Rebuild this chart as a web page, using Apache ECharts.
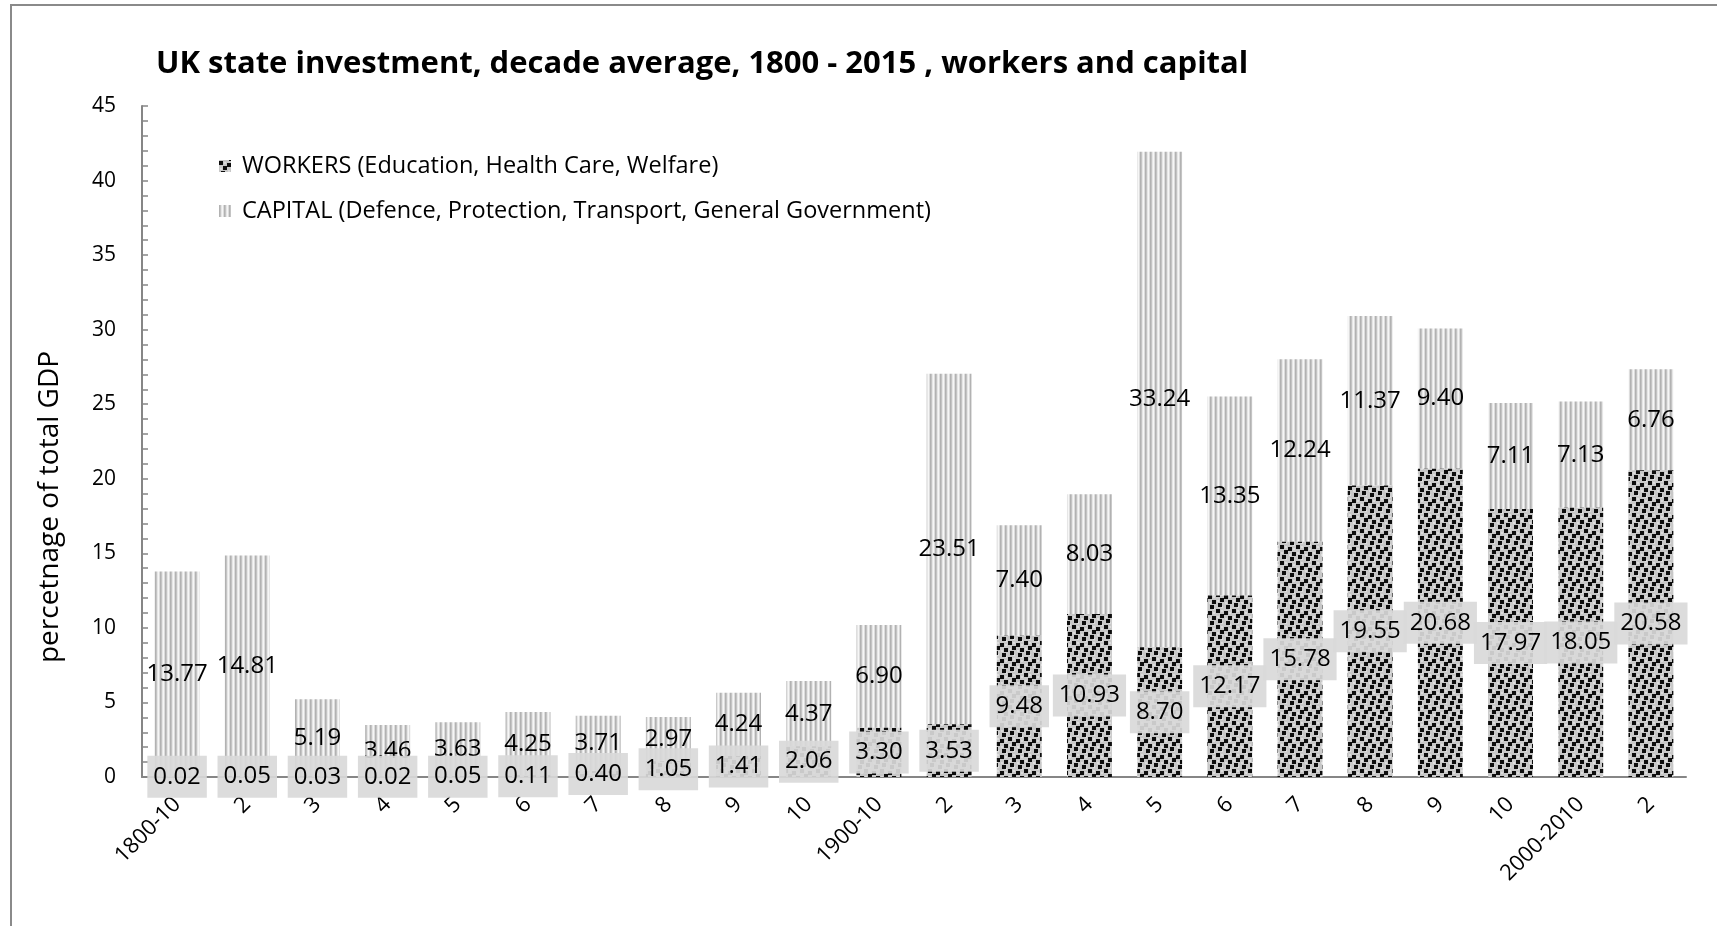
<!DOCTYPE html>
<html>
<head>
<meta charset="utf-8">
<title>UK state investment, decade average, 1800 - 2015</title>
<script src="https://cdn.jsdelivr.net/npm/echarts@6/dist/echarts.min.js"></script>
<style>
  html, body { margin: 0; padding: 0; background: #ffffff; }
  #chart { width: 1717px; height: 926px; }
</style>
</head>
<body>
<div id="chart"></div>
<script>
// Decade labels along the horizontal axis
const categories = ['1800-10', '2', '3', '4', '5', '6', '7', '8', '9', '10',
  '1900-10', '2', '3', '4', '5', '6', '7', '8', '9', '10',
  '2000-2010', '2'];

// Share of GDP spent on workers (education, health care, welfare)
const workers = [0.02, 0.05, 0.03, 0.02, 0.05, 0.11, 0.40, 1.05, 1.41, 2.06,
  3.30, 3.53, 9.48, 10.93, 8.70, 12.17, 15.78, 19.55, 20.68, 17.97,
  18.05, 20.58];

// Share of GDP spent on capital (defence, protection, transport, general government)
const capital = [13.77, 14.81, 5.19, 3.46, 3.63, 4.25, 3.71, 2.97, 4.24, 4.37,
  6.90, 23.51, 7.40, 8.03, 33.24, 13.35, 12.24, 11.37, 9.40, 7.11,
  7.13, 6.76];

const yTicks = [0, 5, 10, 15, 20, 25, 30, 35, 40, 45];

const FONT = '"Open Sans", "Noto Sans", sans-serif';

// Vertical pinstripe fill for the capital segments
function stripePattern() {
  const c = document.createElement('canvas');
  c.width = 5; c.height = 4;
  const ctx = c.getContext('2d');
  const cols = ['#b2b2b2', '#c4c4c4', '#e6e6e6', '#f6f6f6', '#dcdcdc'];
  cols.forEach((col, i) => { ctx.fillStyle = col; ctx.fillRect(i, 0, 1, 4); });
  return c;
}

// Grey fill scattered with small black squares for the workers segments
function dotPattern() {
  const c = document.createElement('canvas');
  c.width = 16; c.height = 16;
  const ctx = c.getContext('2d');
  ctx.fillStyle = '#c8c8c8';
  ctx.fillRect(0, 0, 16, 16);
  ctx.fillStyle = '#dcdcdc';
  [[5, 2], [13, 4], [1, 8], [9, 10], [5, 14], [13, 0]].forEach(([x, y]) => ctx.fillRect(x, y, 2, 2));
  ctx.fillStyle = '#0d0d0d';
  const sq = [[0, 1], [8, 3], [4, 6], [12, 8], [2, 11], [10, 13]];
  sq.forEach(([x, y]) => {
    for (let dx = -16; dx <= 16; dx += 16) {
      for (let dy = -16; dy <= 16; dy += 16) ctx.fillRect(x + dx, y + dy, 4, 4);
    }
  });
  return c;
}

const stripeFill = { image: stripePattern(), repeat: 'repeat' };
const dotFill = { image: dotPattern(), repeat: 'repeat' };

const chart = echarts.init(document.getElementById('chart'), null, { renderer: 'canvas' });

chart.setOption({
  backgroundColor: '#ffffff',
  animation: false,
  title: {
    text: 'UK state investment, decade average, 1800 - 2015 , workers and capital',
    left: 156,
    top: 49,
    padding: 0,
    textStyle: { fontFamily: FONT, fontWeight: 'bold', fontSize: 31, color: '#000000' }
  },
  legend: {
    orient: 'vertical',
    left: 219,
    top: 154,
    padding: 0,
    itemWidth: 12,
    itemHeight: 12,
    itemGap: 21,
    icon: 'rect',
    textStyle: { fontFamily: FONT, fontSize: 23.5, color: '#000000', padding: [0, 0, 0, 6] },
    data: [
      { name: 'WORKERS (Education, Health Care, Welfare)', itemStyle: { color: dotFill } },
      { name: 'CAPITAL (Defence, Protection, Transport, General Government)', itemStyle: { color: stripeFill } }
    ]
  },
  grid: { left: 142, right: 31, top: 106, bottom: 149, containLabel: false },
  xAxis: {
    type: 'category',
    data: categories,
    axisLine: { lineStyle: { color: '#868686', width: 2 } },
    axisTick: { show: false },
    axisLabel: {
      rotate: 45,
      interval: 0,
      margin: 24,
      fontFamily: FONT,
      fontSize: 22,
      color: '#000000'
    }
  },
  yAxis: {
    type: 'value',
    min: yTicks[0],
    max: yTicks[yTicks.length - 1],
    interval: 5,
    splitLine: { show: false },
    axisLine: { show: true, lineStyle: { color: '#868686', width: 2 } },
    axisTick: { show: true, inside: true, length: 6, lineStyle: { color: '#868686', width: 1.5 } },
    minorTick: { show: true, splitNumber: 5, length: 6, lineStyle: { color: '#868686', width: 1.5 } },
    axisLabel: { margin: 26, fontFamily: FONT, fontSize: 21, color: '#000000' }
  },
  series: [
    {
      name: 'WORKERS (Education, Health Care, Welfare)',
      type: 'bar',
      stack: 'total',
      data: workers,
      barCategoryGap: '36%',
      itemStyle: { color: dotFill },
      label: {
        show: true,
        position: 'inside',
        formatter: p => p.value.toFixed(2),
        fontFamily: FONT,
        fontSize: 24,
        color: '#000000',
        backgroundColor: 'rgba(217,217,217,0.92)',
        padding: [10, 6, 8, 6]
      },
      z: 2
    },
    {
      name: 'CAPITAL (Defence, Protection, Transport, General Government)',
      type: 'bar',
      stack: 'total',
      data: capital,
      barCategoryGap: '36%',
      itemStyle: { color: stripeFill },
      label: {
        show: true,
        position: 'inside',
        formatter: p => p.value.toFixed(2),
        fontFamily: FONT,
        fontSize: 24,
        color: '#000000'
      },
      z: 1
    }
  ],
  graphic: [
    {
      type: 'rect',
      shape: { x: 11, y: 5, width: 1720, height: 1000 },
      style: { fill: 'none', stroke: '#8a8a8a', lineWidth: 2 },
      silent: true,
      z: -1
    },
    {
      // vertical axis title
      type: 'text',
      x: 50,
      y: 507,
      rotation: Math.PI / 2,
      style: {
        text: 'percetnage of total GDP',
        fontFamily: FONT,
        fontSize: 28,
        fill: '#000000',
        align: 'center',
        verticalAlign: 'middle'
      },
      silent: true
    }
  ]
});
</script>
</body>
</html>
